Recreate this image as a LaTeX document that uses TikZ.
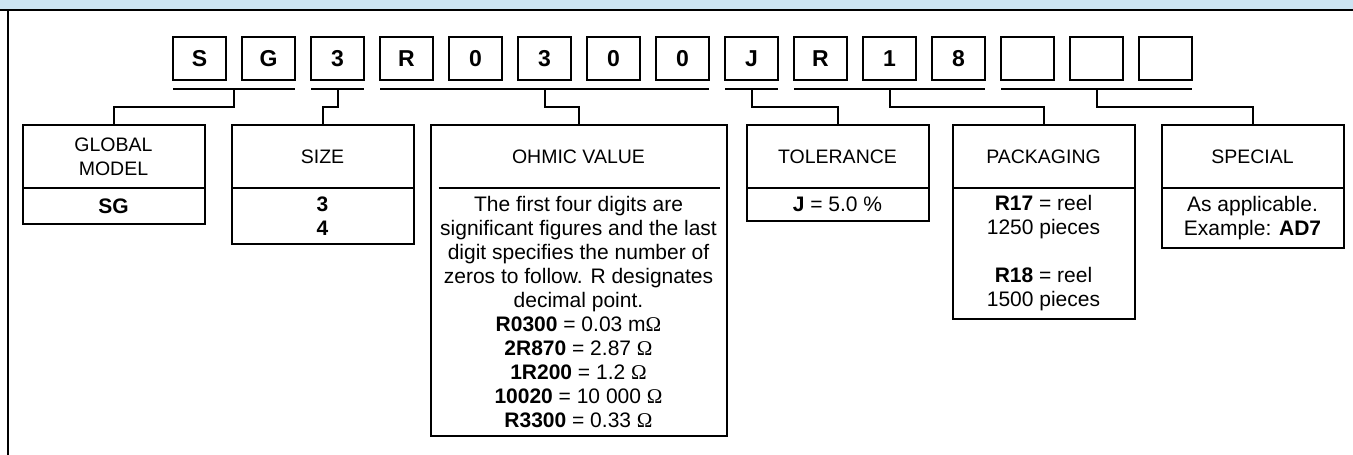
\documentclass[tikz,border=0pt]{standalone}
\usepackage{fontspec}
\setmainfont{Liberation Sans}
\newfontfamily\ohmfont{Liberation Serif}
\usetikzlibrary{positioning}
\definecolor{bandblue}{RGB}{204,228,242}
\newcommand{\ohmsign}{{\ohmfont Ω}}

\begin{document}
\begin{tikzpicture}[
        x=1pt, y=-1pt,   % pixel units, y runs downwards
        every node/.style={inner sep=0pt, outer sep=0pt, align=center},
        digit/.style={draw, line width=2pt, minimum width=53pt, minimum height=43pt, font=\fontsize{23}{24}\selectfont\bfseries}, % code boxes
        headbox/.style={draw, line width=2pt, minimum width=182pt, minimum height=63pt, font=\fontsize{19.5}{24}\selectfont},
        bodybox/.style={draw, line width=2pt, minimum width=182pt, font=\fontsize{21}{24}\selectfont},
        link/.style={draw, line width=2pt}
        ]
        \useasboundingbox (0,0) rectangle (1353,455);
        % frame
        \fill[bandblue] (0,0) rectangle (1353,10);
        \draw[line width=2.4pt] (0,10) -- (1353,10);
        \draw[line width=2.4pt] (8,10) -- (8,455);

        % code boxes
        \foreach \c [count=\i] in {S,G,3,R,0,3,0,0,J,R,1,8,{},{},{}}
          \node[digit] (d\i) at ({199.5+69*(\i-1)},58.5) {\c};

        % underlines
        \draw[link] ([yshift=-8.7pt]d1.south west) -- coordinate (u1) ([yshift=-8.7pt]d2.south east);
        \draw[link] ([yshift=-8.7pt]d3.south west) -- coordinate (u2) ([yshift=-8.7pt]d3.south east);
        \draw[link] ([yshift=-8.7pt]d4.south west) -- coordinate (u3) ([yshift=-8.7pt]d8.south east);
        \draw[link] ([yshift=-8.7pt]d9.south west) -- coordinate (u4) ([yshift=-8.7pt]d9.south east);
        \draw[link] ([yshift=-8.7pt]d10.south west) -- coordinate (u5) ([yshift=-8.7pt]d12.south east);
        \draw[link] ([yshift=-8.7pt]d13.south west) -- coordinate (u6) ([yshift=-8.7pt]d15.south east);

        % field boxes
        \node[headbox] (model) at (113.5,156.5) {GLOBAL\\MODEL};
        \node[bodybox, minimum height=36pt, below=0pt of model] (modelbody) {\textbf{SG}};

        \node[headbox, right=27pt of model] (size) {SIZE};
        \node[bodybox, minimum height=56pt, below=0pt of size] (sizebody) {\textbf{3}\\\textbf{4}};

        \node[headbox, draw=none, minimum width=296pt, right=17pt of size] (ohmic) {OHMIC VALUE};
        \node[bodybox, draw=none, minimum width=296pt, minimum height=248pt, below=0pt of ohmic] (ohmicbody)
          {The first four digits are\\significant figures and the last\\digit specifies the number of\\zeros to follow. R designates\\decimal point.\\
           \textbf{R0300} = 0.03 m\ohmsign\\\textbf{2R870} = 2.87 \ohmsign\\\textbf{1R200} = 1.2 \ohmsign\\
           \textbf{10020} = 10 000 \ohmsign\\\textbf{R3300} = 0.33 \ohmsign};
        \draw[link] (ohmic.north west) rectangle (ohmicbody.south east);
        \draw[link] ([xshift=8pt]ohmic.south west) -- ([xshift=-7pt]ohmic.south east);

        \node[headbox, right=20pt of ohmic] (tolerance) {TOLERANCE};
        \node[bodybox, minimum height=33pt, below=0pt of tolerance] (tolbody) {\textbf{J} = 5.0 \%};

        \node[headbox, right=24pt of tolerance] (packaging) {PACKAGING};
        \node[bodybox, minimum height=131pt, below=0pt of packaging] (packbody)
          {\textbf{R17} = reel\\1250 pieces\\[24pt]\textbf{R18} = reel\\1500 pieces};

        \node[headbox, right=27pt of packaging] (special) {SPECIAL};
        \node[bodybox, minimum height=60pt, below=0pt of special] (specbody)
          {As applicable.\\Example: \textbf{AD7}};

        % connectors
        \draw[link] (u1) -- ++(0,18.3) -| (model.north);
        \draw[link] (u2) -- ++(0,18.3) -| (size.north);
        \draw[link] (u3) -- ++(0,18.3) -| (ohmic.north);
        \draw[link] (u4) -- ++(0,18.3) -| (tolerance.north);
        \draw[link] (u5) -- ++(0,18.3) -| (packaging.north);
        \draw[link] (u6) -- ++(0,18.3) -| (special.north);
        \end{tikzpicture}
\end{document}
